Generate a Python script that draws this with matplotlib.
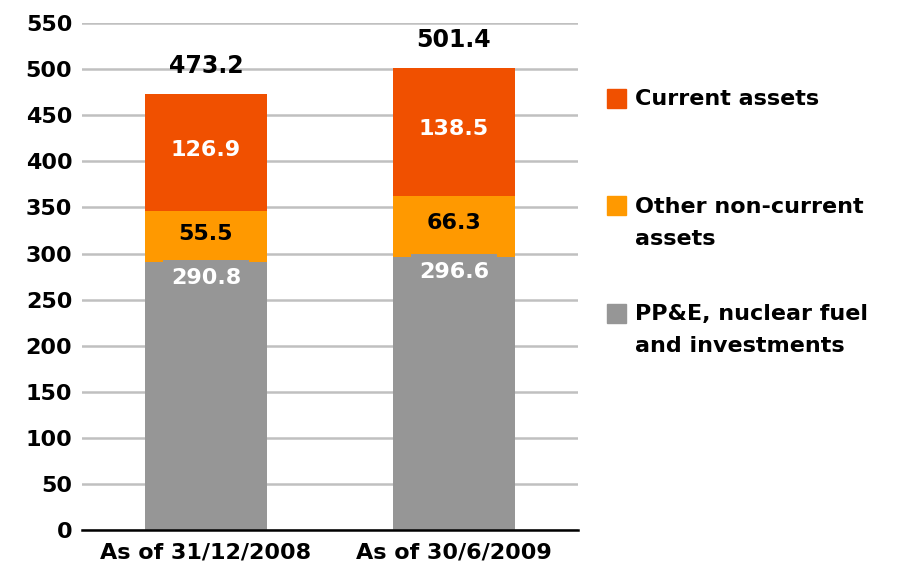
import numpy as np
import matplotlib.pyplot as plt

plt.rcParams['font.family'] = ['DejaVu Sans']
plt.rcParams['font.weight'] = 'bold'

####################

periods = ['As of 31/12/2008', 'As of 30/6/2009']
ppe = [290.8, 296.6]
other_nc = [55.5, 66.3]
current = [126.9, 138.5]
totals = [473.2, 501.4]

series_names = ['Current assets', 'Other non-current\nassets', 'PP&E, nuclear fuel\nand investments']
col_cur = '#F05000'
col_oth = '#FF9900'
col_ppe = '#969696'

####################

fig = plt.figure(figsize=(9.05, 5.8), dpi=100)
ax = fig.add_axes([0.0906, 0.0862, 0.548, 0.874])

x = np.arange(len(periods))
w = 0.49

ax.bar(x, ppe, w, color=col_ppe, zorder=3)
ax.bar(x, other_nc, w, bottom=ppe, color=col_oth, zorder=3)
bottom2 = np.array(ppe) + np.array(other_nc)
ax.bar(x, current, w, bottom=bottom2, color=col_cur, zorder=3)

for i in range(len(x)):
    # gray label box pokes a little above the gray segment, as in the original
    ax.text(x[i], ppe[i] - 17, '%.1f' % ppe[i], ha='center', va='center',
            color='white', fontsize=16, fontweight='bold', zorder=5,
            bbox=dict(boxstyle='square,pad=0.36', fc=col_ppe, ec='none'))
    ax.text(x[i], ppe[i] + other_nc[i] / 2 + 3, '%.1f' % other_nc[i], ha='center', va='center',
            color='black', fontsize=16, fontweight='bold', zorder=5)
    ax.text(x[i], bottom2[i] + current[i] / 2 + 3, '%.1f' % current[i], ha='center', va='center',
            color='white', fontsize=16, fontweight='bold', zorder=5)
    ax.text(x[i], totals[i] + 30, '%.1f' % totals[i], ha='center', va='center',
            color='black', fontsize=17, fontweight='bold', zorder=5)

ax.set_xlim(-0.5, 1.5)
ax.set_ylim(0, 550)
ax.set_yticks(np.arange(0, 551, 50))
ax.set_xticks(x)
ax.set_xticklabels(periods, fontsize=16, fontweight='bold')
ax.tick_params(axis='y', labelsize=16, length=0, pad=7)
ax.tick_params(axis='x', length=0, pad=9)
for lab in ax.get_yticklabels():
    lab.set_fontweight('bold')

ax.grid(True, axis='y', color='#c0c0c0', linewidth=1.8, zorder=0)
for s in ['top', 'right', 'left']:
    ax.spines[s].set_visible(False)
ax.spines['bottom'].set_color('black')
ax.spines['bottom'].set_linewidth(1.8)
ax.spines['bottom'].set_zorder(4)

# legend drawn as figure text, squares line up with the first text line
leg_y = [98, 206, 313]
leg_cols = [col_cur, col_oth, col_ppe]
for name, yy, c in zip(series_names, leg_y, leg_cols):
    fy = 1 - yy / 580
    fig.patches.append(plt.Rectangle((607 / 905, fy - 9.5 / 580), 19 / 905, 19 / 580,
                                     transform=fig.transFigure, color=c, figure=fig))
    fig.text(635 / 905, fy + 9 / 580, name, ha='left', va='top', fontsize=16,
             fontweight='bold', linespacing=1.75)

fig.savefig('out.png', dpi=100)
